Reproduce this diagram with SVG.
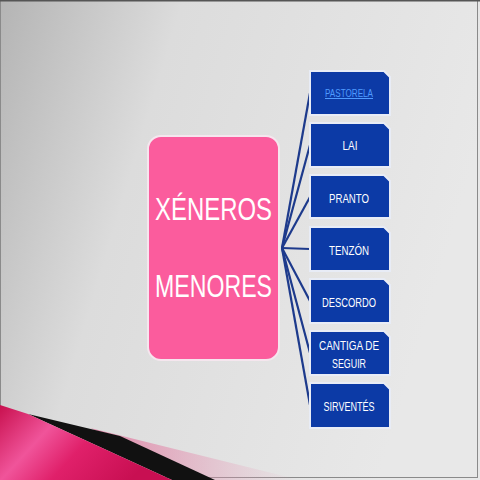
<svg xmlns="http://www.w3.org/2000/svg" width="480" height="480" viewBox="0 0 480 480">
<defs>
<linearGradient id="bg" x1="0" y1="0" x2="1" y2="0.3">
<stop offset="0" stop-color="#b4b4b4"/>
<stop offset="0.35" stop-color="#dcdcdc"/>
<stop offset="1" stop-color="#e8e8e8"/>
</linearGradient>
<linearGradient id="pk" x1="0" y1="0" x2="1" y2="0.4">
<stop offset="0" stop-color="#c8104e"/>
<stop offset="0.35" stop-color="#f0549a"/>
<stop offset="0.6" stop-color="#e0206a"/>
<stop offset="1" stop-color="#c80f52"/>
</linearGradient>
<linearGradient id="lp" x1="0" y1="0" x2="1" y2="0">
<stop offset="0" stop-color="#e07aa0" stop-opacity="0.9"/>
<stop offset="1" stop-color="#e8a6bf" stop-opacity="0"/>
</linearGradient>
<style>
.blue{fill:#0c3aa6;stroke:#e8ecf6;stroke-width:2}
.lbl{font-family:"Liberation Sans",sans-serif;font-size:13.5px;fill:#ffffff;text-anchor:middle}
.big{font-family:"Liberation Sans",sans-serif;font-size:31px;fill:#ffffff;text-anchor:middle}
.con{stroke:#1d3a8c;stroke-width:2.2;fill:none}
</style>
</defs>
<rect x="0" y="0" width="480" height="480" fill="url(#bg)"/>
<rect x="0.5" y="0.5" width="477" height="477" fill="none" stroke="#8a8a8a" stroke-width="1"/>
<line x1="0" y1="0.8" x2="480" y2="0.8" stroke="#555" stroke-width="1.6"/>
<!-- bottom-left swoosh -->
<polygon points="90,428 300,480 210,480" fill="url(#lp)"/>
<polygon points="28,414 120,436 215,480 172,480" fill="#111"/>
<polygon points="0,405 28,414 172,480 0,480" fill="url(#pk)"/>
<g id="connectors">
<line class="con" x1="282" y1="248" x2="310" y2="93"/>
<line class="con" x1="282" y1="248" x2="310" y2="145"/>
<line class="con" x1="282" y1="248" x2="310" y2="197"/>
<line class="con" x1="282" y1="248" x2="310" y2="249"/>
<line class="con" x1="282" y1="248" x2="310" y2="301"/>
<line class="con" x1="282" y1="248" x2="310" y2="353"/>
<line class="con" x1="282" y1="248" x2="310" y2="405"/>
</g>
<g id="main">
<rect x="148" y="136" width="131" height="224" rx="13" fill="#fb5c9d" stroke="#f5e6ee" stroke-width="2"/>
<text class="big" x="213.5" y="220" textLength="117" lengthAdjust="spacingAndGlyphs">XÉNEROS</text>
<text class="big" x="213.5" y="297" textLength="117" lengthAdjust="spacingAndGlyphs">MENORES</text>
</g>
<g id="n1">
<path class="blue" d="M310,71 H384 L390,77 V115 H310 Z"/>
<text x="349" y="97" font-family="Liberation Sans,sans-serif" font-size="10" fill="#4f9bff" text-anchor="middle" text-decoration="underline" textLength="48" lengthAdjust="spacingAndGlyphs">PASTORELA</text>
</g>
<g id="n2">
<path class="blue" d="M310,123 H384 L390,129 V167 H310 Z"/>
<text class="lbl" x="350" y="150" textLength="15" lengthAdjust="spacingAndGlyphs">LAI</text>
</g>
<g id="n3">
<path class="blue" d="M310,175 H384 L390,181 V218 H310 Z"/>
<text class="lbl" x="349" y="203" textLength="40" lengthAdjust="spacingAndGlyphs">PRANTO</text>
</g>
<g id="n4">
<path class="blue" d="M310,227 H384 L390,233 V271 H310 Z"/>
<text class="lbl" x="349" y="255" textLength="40" lengthAdjust="spacingAndGlyphs">TENZÓN</text>
</g>
<g id="n5">
<path class="blue" d="M310,279 H384 L390,285 V323 H310 Z"/>
<text class="lbl" x="349" y="307" textLength="54" lengthAdjust="spacingAndGlyphs">DESCORDO</text>
</g>
<g id="n6">
<path class="blue" d="M310,331 H384 L390,337 V375 H310 Z"/>
<text class="lbl" x="349" y="350" textLength="60" lengthAdjust="spacingAndGlyphs">CANTIGA DE</text>
<text class="lbl" x="349" y="368" textLength="34" lengthAdjust="spacingAndGlyphs">SEGUIR</text>
</g>
<g id="n7">
<path class="blue" d="M310,383 H384 L390,389 V428 H310 Z"/>
<text class="lbl" x="349" y="411" textLength="51" lengthAdjust="spacingAndGlyphs">SIRVENTÉS</text>
</g>
</svg>
